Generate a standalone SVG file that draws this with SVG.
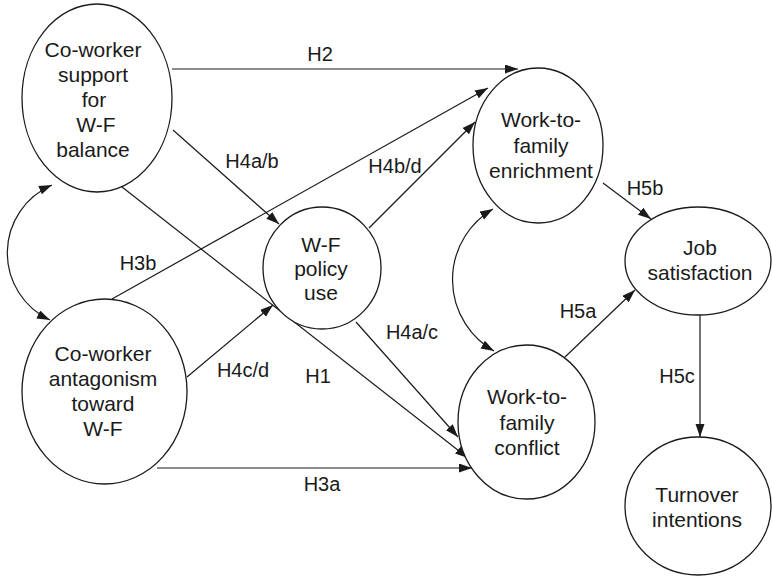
<svg xmlns="http://www.w3.org/2000/svg" width="772" height="576" viewBox="0 0 772 576">
<style>
.n{fill:#fff;stroke:#1a1a1a;stroke-width:1.3}
.t{font-family:"Liberation Sans",Arial,sans-serif;font-size:21px;fill:#1a1a1a;text-anchor:middle}
.l{font-family:"Liberation Sans",Arial,sans-serif;font-size:20px;fill:#1a1a1a;text-anchor:middle}
.c{fill:none;stroke:#1a1a1a;stroke-width:1.2}
</style>
<defs>
<marker id="a" markerUnits="userSpaceOnUse" markerWidth="14" markerHeight="10" refX="13" refY="4.5" orient="auto-start-reverse">
<path d="M0,0 L13,4.5 L0,9 z" fill="#1a1a1a"/>
</marker>
</defs>
<rect width="772" height="576" fill="#fff"/>
<g id="connectors">
<line class="c" x1="172" y1="69" x2="518" y2="69" marker-end="url(#a)"/>
<line class="c" x1="173" y1="130" x2="279" y2="224" marker-end="url(#a)"/>
<line class="c" x1="112" y1="299" x2="488" y2="88" marker-end="url(#a)"/>
<line class="c" x1="122" y1="187" x2="468" y2="458" marker-end="url(#a)"/>
<line class="c" x1="187" y1="377" x2="273" y2="305" marker-end="url(#a)"/>
<line class="c" x1="157" y1="468" x2="472" y2="468" marker-end="url(#a)"/>
<line class="c" x1="369" y1="228" x2="475" y2="122" marker-end="url(#a)"/>
<line class="c" x1="356" y1="322" x2="458" y2="437" marker-end="url(#a)"/>
<line class="c" x1="603" y1="183" x2="651" y2="219" marker-end="url(#a)"/>
<line class="c" x1="565" y1="357" x2="635" y2="290" marker-end="url(#a)"/>
<line class="c" x1="700" y1="315" x2="700" y2="437" marker-end="url(#a)"/>
<path class="c" d="M52,185 A74,74 0 0 0 50,320" marker-start="url(#a)" marker-end="url(#a)"/>
<path class="c" d="M493,209 A82,82 0 0 0 494,351" marker-start="url(#a)" marker-end="url(#a)"/>
<text class="l" x="320" y="61">H2</text>
<text class="l" x="252" y="168">H4a/b</text>
<text class="l" x="395" y="173">H4b/d</text>
<text class="l" x="138" y="270">H3b</text>
<text class="l" x="243" y="377">H4c/d</text>
<text class="l" x="318" y="383">H1</text>
<text class="l" x="322" y="491">H3a</text>
<text class="l" x="412" y="339">H4a/c</text>
<text class="l" x="645" y="195">H5b</text>
<text class="l" x="578" y="318">H5a</text>
<text class="l" x="677" y="383">H5c</text>
</g>
<g id="support">
<ellipse class="n" cx="97" cy="98" rx="75" ry="94"/>
<text class="t" x="93" y="57">Co-worker</text>
<text class="t" x="93" y="82">support</text>
<text class="t" x="94" y="107">for</text>
<text class="t" x="96" y="132">W-F</text>
<text class="t" x="93" y="157">balance</text>
</g>
<g id="antagonism">
<ellipse class="n" cx="104.5" cy="391.5" rx="82.5" ry="92.5"/>
<text class="t" x="103" y="361">Co-worker</text>
<text class="t" x="103" y="386">antagonism</text>
<text class="t" x="103" y="411">toward</text>
<text class="t" x="103" y="436">W-F</text>
</g>
<g id="policy">
<ellipse class="n" cx="322" cy="268" rx="59" ry="61"/>
<text class="t" x="321" y="252">W-F</text>
<text class="t" x="321" y="276">policy</text>
<text class="t" x="321" y="300">use</text>
</g>
<g id="enrichment">
<ellipse class="n" cx="538" cy="145.5" rx="65" ry="77.5"/>
<text class="t" x="541" y="127">Work-to-</text>
<text class="t" x="541" y="152.5">family</text>
<text class="t" x="541" y="178">enrichment</text>
</g>
<g id="conflict">
<ellipse class="n" cx="526.5" cy="422" rx="68.5" ry="77"/>
<text class="t" x="527" y="404">Work-to-</text>
<text class="t" x="527" y="430">family</text>
<text class="t" x="527" y="455">conflict</text>
</g>
<g id="satisfaction">
<ellipse class="n" cx="698" cy="261" rx="73" ry="54"/>
<text class="t" x="700" y="255">Job</text>
<text class="t" x="700" y="280">satisfaction</text>
</g>
<g id="turnover">
<ellipse class="n" cx="698" cy="506" rx="73" ry="69"/>
<text class="t" x="697" y="502">Turnover</text>
<text class="t" x="697" y="527">intentions</text>
</g>
</svg>
